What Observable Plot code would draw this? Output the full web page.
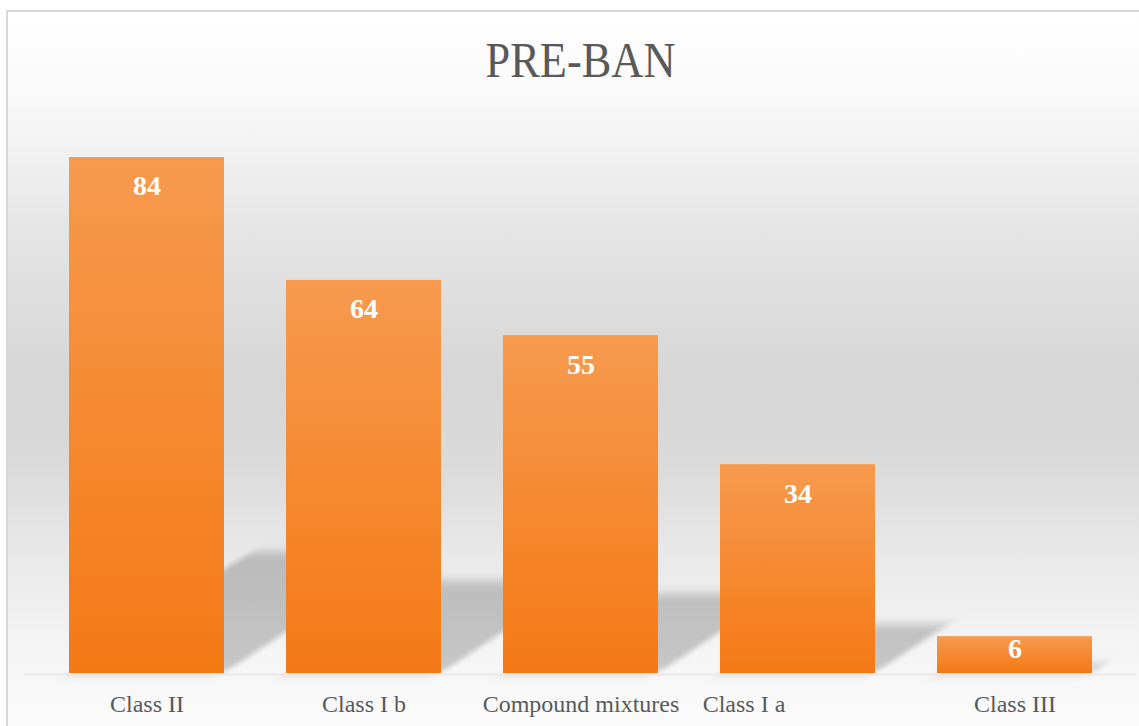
<!DOCTYPE html>
<html>
<head>
<meta charset="utf-8">
<script src="https://cdn.jsdelivr.net/npm/d3@7"></script>
<script src="https://cdn.jsdelivr.net/npm/@observablehq/plot@0.6"></script>
<style>
  html, body { margin: 0; padding: 0; background: #ffffff; }
  #frame {
    position: absolute; left: 6px; top: 10px; width: 1133px; height: 716px;
    border-left: 2px solid #d9d9d9; border-top: 2px solid #d9d9d9;
    background: linear-gradient(to bottom,
      #ffffff 0px, #fbfbfb 70px, #f2f2f2 135px, #e4e4e4 225px,
      #d6d6d6 370px, #dadada 450px, #e9e9e9 545px, #f5f5f5 640px, #fbfbfb 716px);
  }
  #chart { position: absolute; left: 0; top: 0; }
</style>
</head>
<body>
<div id="frame"></div>
<div id="chart"></div>
<script>
// Pesticide classes recorded before the ban
const categories = ["Class II", "Class I b", "Compound mixtures", "Class I a", "Class III"];
const values = [84, 64, 55, 34, 6];
// the "Class I a" label carries trailing spaces, which push it left of its bar
const tickLabels = ["Class II", "Class I b", "Compound mixtures", "Class I a" + "\u00a0".repeat(18), "Class III"];
const title = "PRE-BAN";

const data = categories.map((category, i) => ({category, value: values[i]}));
const shadowRatio = 0.235;   // floor shadow height relative to the bar
const shadowSkew = 1.5;      // horizontal run of the shadow per unit of height

const font = "'Liberation Serif', 'DejaVu Serif', serif";

const plot = Plot.plot({
  width: 1139,
  height: 726,
  marginLeft: 24.5,
  marginRight: 3.5,
  marginTop: 157,
  marginBottom: 53,
  style: {background: "transparent", fontFamily: font, overflow: "visible"},
  x: {domain: categories, paddingInner: 0.287, paddingOuter: 0.2},
  y: {domain: [0, d3.max(values)], axis: null},
  marks: [
    // floor shadows (first bar group in the figure)
    Plot.barY(data, {x: "category", y: d => d.value * shadowRatio, fill: "#000", fillOpacity: 0.2}),
    Plot.ruleY([0], {stroke: "#e8e8e8", strokeWidth: 2, dy: 1}),
    Plot.barY(data, {x: "category", y: "value", fill: "url(#barGrad)"}),
    Plot.text(data.filter(d => d.value > 10), {x: "category", y: "value", text: d => String(d.value), dy: 29, fill: "#ffffff", fontWeight: "bold", fontSize: 28}),
    Plot.text(data.filter(d => d.value <= 10), {x: "category", y: "value", text: d => String(d.value), dy: 12, fill: "#ffffff", fontWeight: "bold", fontSize: 28}),
    Plot.axisX({tickSize: 0, tickPadding: 21, fontSize: 24, color: "#595959", label: null,
      tickFormat: c => tickLabels[categories.indexOf(c)]}),
    // chart title (last text group in the figure)
    Plot.text([title], {frameAnchor: "top", lineAnchor: "top", dy: -116, fontSize: 50, fill: "#595959"})
  ]
});

document.getElementById("chart").appendChild(plot);

const svg = d3.select(plot);
const defs = svg.insert("defs", ":first-child");
const grad = defs.append("linearGradient").attr("id", "barGrad")
  .attr("x1", 0).attr("y1", 0).attr("x2", 0).attr("y2", 1);
grad.append("stop").attr("offset", "0%").attr("stop-color", "#f79a4e");
grad.append("stop").attr("offset", "100%").attr("stop-color", "#f47915");
defs.append("filter").attr("id", "shadowBlur")
  .attr("x", "-20%").attr("y", "-30%").attr("width", "140%").attr("height", "160%")
  .append("feGaussianBlur").attr("stdDeviation", 5);

// lean the shadow bars over to the right, hinged on the baseline
const y0 = plot.scale("y").apply(0);
const angle = -Math.atan(shadowSkew) * 180 / Math.PI;
const barGroups = svg.selectAll('g[aria-label="bar"]').nodes();
d3.select(barGroups[0])
  .attr("transform", `translate(0,${y0}) skewX(${angle}) translate(0,${-y0})`)
  .attr("filter", "url(#shadowBlur)");

// squeeze the title to the chart's narrow serif
const textGroups = svg.selectAll('g[aria-label="text"]').nodes();
d3.select(textGroups[textGroups.length - 1]).select("text")
  .attr("textLength", 190).attr("lengthAdjust", "spacingAndGlyphs");
</script>
</body>
</html>
